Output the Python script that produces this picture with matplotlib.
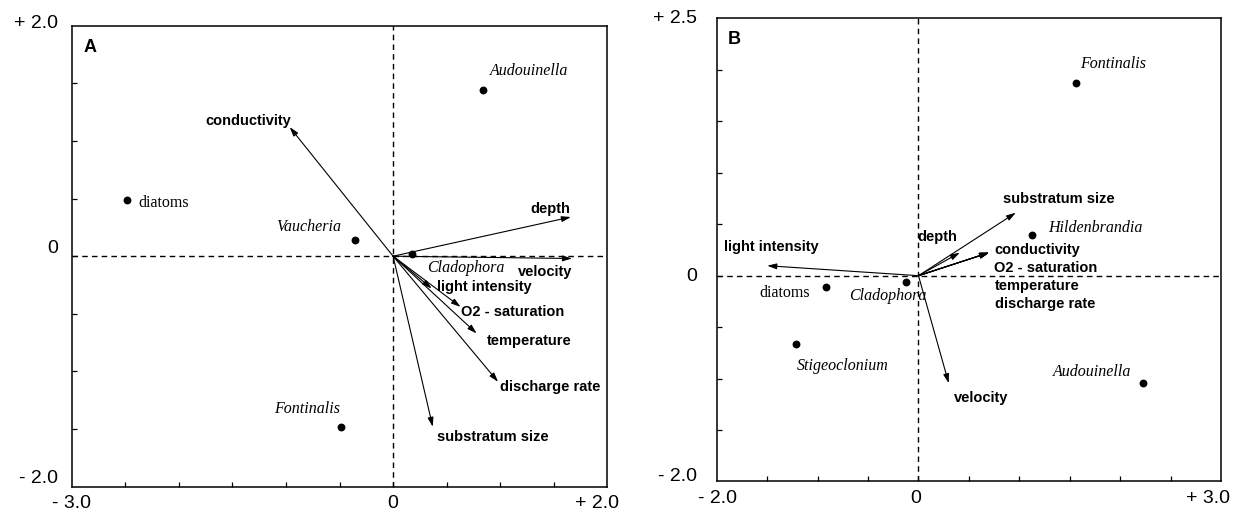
import matplotlib
matplotlib.use('Agg')
import matplotlib.pyplot as plt
import matplotlib.transforms as mtransforms
import numpy as np

# --- Panel A: species scores and environmental vectors ---
a_species = ['Audouinella', 'diatoms', 'Vaucheria', 'Cladophora', 'Fontinalis']
a_species_x = [0.84, -2.48, -0.36, 0.18, -0.49]
a_species_y = [1.44, 0.49, 0.14, 0.02, -1.48]

a_env = ['conductivity', 'depth', 'velocity', 'light intensity',
         'O2 - saturation', 'temperature', 'discharge rate', 'substratum size']
a_env_x = [-0.965, 1.66, 1.67, 0.36, 0.63, 0.78, 0.98, 0.37]
a_env_y = [1.12, 0.34, -0.02, -0.28, -0.44, -0.67, -1.09, -1.48]

# --- Panel B ---
b_species = ['Fontinalis', 'Hildenbrandia', 'diatoms', 'Cladophora',
             'Stigeoclonium', 'Audouinella']
b_species_x = [1.56, 1.125, -0.92, -0.12, -1.21, 2.23]
b_species_y = [1.87, 0.40, -0.106, -0.057, -0.66, -1.045]

b_env = ['substratum size', 'depth', 'conductivity', 'O2 - saturation',
         'temperature', 'discharge rate', 'velocity', 'light intensity']
b_env_x = [0.965, 0.41, 0.70, 0.70, 0.70, 0.70, 0.30, -1.50]
b_env_y = [0.612, 0.224, 0.224, 0.224, 0.224, 0.224, -1.045, 0.097]

# where each label sits (left edge, vertical centre) in data units
a_species_pos = {'Audouinella': (0.906, 1.61), 'diatoms': (-2.38, 0.46),
                 'Vaucheria': (-1.09, 0.253), 'Cladophora': (0.313, -0.10),
                 'Fontinalis': (-1.113, -1.33)}
a_env_pos = {'conductivity': (-1.755, 1.176), 'depth': (1.28, 0.41),
             'velocity': (1.166, -0.135), 'light intensity': (0.406, -0.27),
             'O2 - saturation': (0.635, -0.48), 'temperature': (0.88, -0.74),
             'discharge rate': (0.999, -1.137), 'substratum size': (0.406, -1.566)}
b_species_pos = {'Fontinalis': (1.605, 2.06), 'Hildenbrandia': (1.29, 0.46),
                 'diatoms': (-1.58, -0.17), 'Cladophora': (-0.69, -0.20),
                 'Stigeoclonium': (-1.21, -0.88), 'Audouinella': (1.33, -0.94)}
b_env_pos = {'substratum size': (0.84, 0.745), 'depth': (-0.015, 0.373),
             'conductivity': (0.75, 0.25), 'O2 - saturation': (0.75, 0.072),
             'temperature': (0.76, -0.10), 'discharge rate': (0.76, -0.274),
             'velocity': (0.35, -1.19), 'light intensity': (-1.925, 0.276)}

SANS = 'Liberation Sans'
SERIF = 'Liberation Serif'


def draw_panel(ax, letter, xlim, ylim, species, sx, sy, spos, env, ex, ey, epos,
               ylabels, xlabels, ylab_dx):
    ax.set_xlim(*xlim)
    ax.set_ylim(*ylim)

    # frame, inward ticks every 0.5 on bottom and left
    for side in ax.spines.values():
        side.set_linewidth(1.1)
    ax.set_xticks(np.arange(xlim[0] + 0.5, xlim[1], 0.5))
    ax.set_yticks(np.arange(ylim[0] + 0.5, ylim[1], 0.5))
    ax.tick_params(direction='in', length=3.5, width=0.9,
                   labelbottom=False, labelleft=False)

    ax.axhline(0, color='black', lw=1.0, ls=(0, (4, 3)))
    ax.axvline(0, color='black', lw=1.0, ls=(0, (4, 3)))

    # environmental vectors
    for name, x, y in zip(env, ex, ey):
        ax.annotate('', xy=(x, y), xytext=(0, 0),
                    arrowprops=dict(arrowstyle='-|>,head_length=0.55,head_width=0.17',
                                    color='black', lw=0.8, shrinkA=0, shrinkB=0,
                                    mutation_scale=10))
        lx, ly = epos[name]
        ax.text(lx, ly, name, ha='left', va='center', fontsize=10.5,
                fontweight='bold', family=SANS)

    # species scores
    ax.scatter(sx, sy, s=32, color='black', zorder=5, linewidths=0)
    for name in species:
        lx, ly = spos[name]
        style = 'normal' if name == 'diatoms' else 'italic'
        ax.text(lx, ly, name, ha='left', va='center', fontsize=11.5,
                style=style, family=SERIF)

    ax.text(0.022, 0.972, letter, transform=ax.transAxes, ha='left', va='top',
            fontsize=13, fontweight='bold', family=SANS)

    ytr = mtransforms.blended_transform_factory(ax.transAxes, ax.transData)
    for text, y in ylabels:
        ax.text(ylab_dx, y, text, transform=ytr, ha='right', va='baseline',
                fontsize=14, family=SANS)
    xtr = mtransforms.blended_transform_factory(ax.transData, ax.transAxes)
    for text, x in xlabels:
        ax.text(x, -0.018, text, transform=xtr, ha='center', va='top',
                fontsize=14, family=SANS)


fig = plt.figure(figsize=(12.41, 5.17), dpi=100)
ax_a = fig.add_axes([0.0578, 0.0586, 0.4316, 0.8917])
ax_b = fig.add_axes([0.5776, 0.0687, 0.4063, 0.8956])

draw_panel(ax_a, 'A', (-3.0, 2.0), (-2.0, 2.0),
           a_species, a_species_x, a_species_y, a_species_pos,
           a_env, a_env_x, a_env_y, a_env_pos,
           [('+ 2.0', 1.98), ('0', 0.03), ('- 2.0', -1.97)],
           [('- 3.0', -3.0), ('0', 0.0), ('+ 2.0', 1.9)], -0.026)

draw_panel(ax_b, 'B', (-2.0, 3.0), (-2.0, 2.5),
           b_species, b_species_x, b_species_y, b_species_pos,
           b_env, b_env_x, b_env_y, b_env_pos,
           [('+ 2.5', 2.455), ('0', -0.05), ('- 2.0', -2.0)],
           [('- 2.0', -1.99), ('0', -0.03), ('+ 3.0', 2.87)], -0.04)

fig.savefig('out.png', dpi=100)
